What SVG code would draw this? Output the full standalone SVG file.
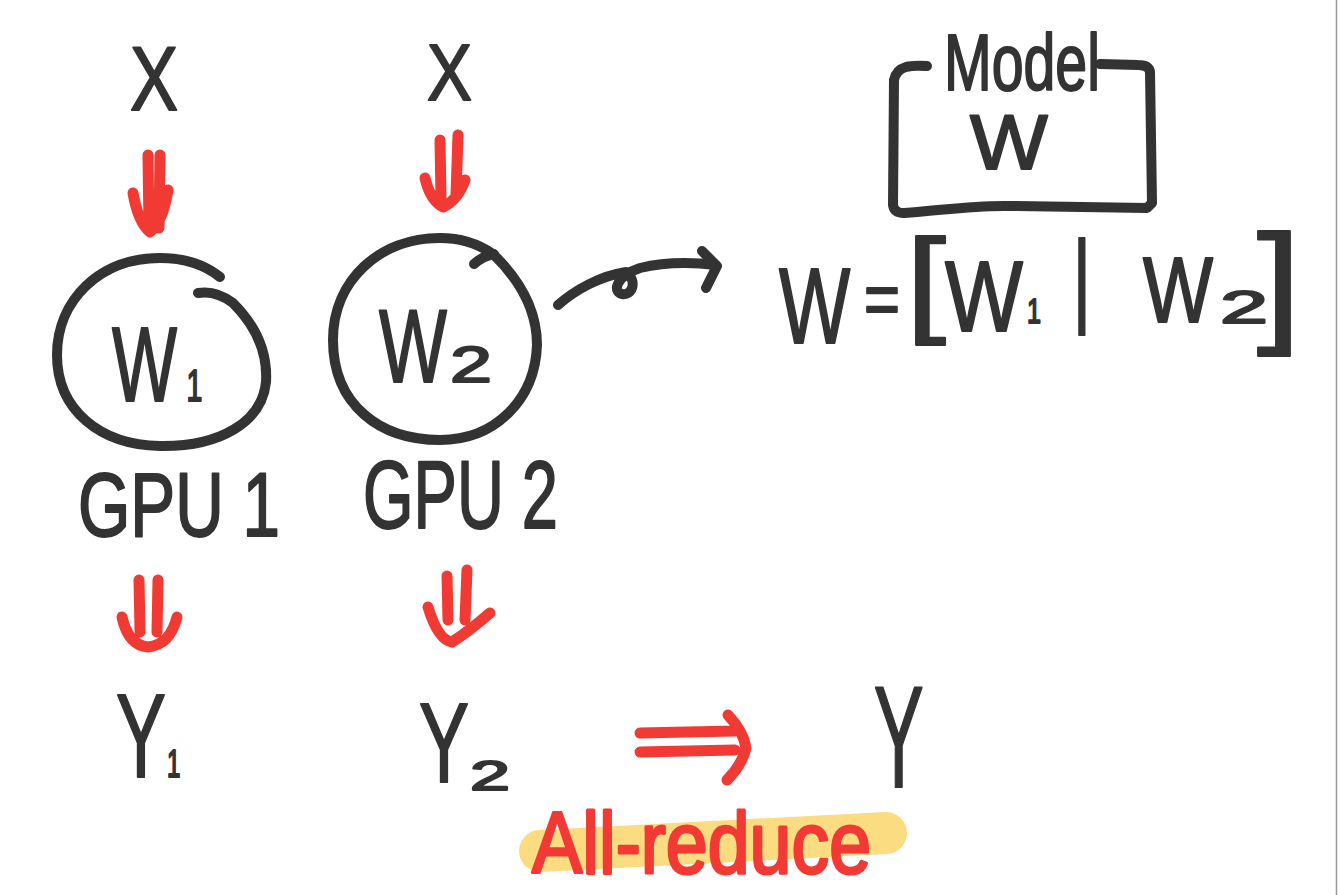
<svg xmlns="http://www.w3.org/2000/svg" width="1338" height="895" viewBox="0 0 1338 895">
  <style>
    .ink { fill: none; stroke: #333333; stroke-width: 10; stroke-linecap: round; stroke-linejoin: round; }
    .redline { fill: none; stroke: #F23A35; stroke-width: 11; stroke-linecap: round; stroke-linejoin: round; }
    .hw { font-family: "Liberation Sans", Arial, sans-serif; fill: #333333; stroke: #333333; stroke-width: 2; stroke-linejoin: round; }
    .hwred { font-family: "Liberation Sans", Arial, sans-serif; fill: #F23A35; stroke: #F23A35; stroke-width: 3; stroke-linejoin: round; }
  </style>
  <rect x="0" y="0" width="1338" height="895" fill="#FFFFFF"/>
  <line x1="1336.5" y1="0" x2="1336.5" y2="895" stroke="#9A9A9A" stroke-width="1.5"/>

  <g id="x1">
    <text class="hw" transform="scale(0.8,1)" x="162.5" y="110" font-size="90">X</text>
  </g>
  <g id="x2">
    <text class="hw" transform="scale(0.843,1)" x="506.5" y="100" font-size="80">X</text>
  </g>

  <g id="gpu1">
    <path class="ink" d="M198,293 Q216,290 233,303 C252,322 268,348 266,382 C262,422 220,447 160,446 C100,445 57,410 57,355 C57,300 100,258 160,258 C186,258 205,265 220,277"/>
    <text class="hw" transform="scale(0.65,1)" x="172.3" y="401" font-size="106">W<tspan x="287" y="401" font-size="44">1</tspan></text>
    <text class="hw" transform="scale(0.748,1)" x="104.3" y="536" font-size="90">GPU 1</text>
  </g>

  <g id="gpu2">
    <path class="ink" d="M493,254 C520,280 537,310 537,345 C535,400 495,440 440,440 C380,440 333,405 333,340 C333,280 380,238 440,238 C462,238 480,245 493,254"/>
    <path class="ink" d="M474,264 Q483,256 494,254"/>
    <text class="hw" transform="scale(0.6925,1)" x="547.3" y="382" font-size="104">W<tspan x="649.8" y="382" font-size="50" textLength="60.6" lengthAdjust="spacingAndGlyphs">2</tspan></text>
    <text class="hw" transform="scale(0.67,1)" x="541.8" y="528" font-size="97">GPU 2</text>
  </g>

  <g id="y1">
    <text class="hw" transform="scale(0.635,1)" x="182.7" y="777" font-size="118">Y<tspan x="263" y="777" font-size="38">1</tspan></text>
  </g>
  <g id="y2">
    <text class="hw" transform="scale(0.658,1)" x="636.8" y="782" font-size="114">Y<tspan x="714.3" y="790" font-size="42" textLength="60.8" lengthAdjust="spacingAndGlyphs">2</tspan></text>
  </g>
  <g id="y">
    <text class="hw" transform="scale(0.517,1)" x="1690" y="787" font-size="145">Y</text>
  </g>

  <g id="model">
    <path class="ink" d="M927,66 C912,65 897,65 894,80 L893,205 Q894,213 904,213 C945,210 975,205 1010,206 L1147,208 L1152,203 L1150,72 Q1149,65 1138,65 L1100,64"/>
    <text class="hw" transform="scale(0.716,1)" x="1318.4" y="90" font-size="80">Model</text>
    <text class="hw" transform="scale(1.07,1)" x="906.5" y="169" font-size="77">W</text>
  </g>

  <g id="equation">
    <text class="hw" transform="scale(0.7,1)" x="1112.9" y="343" font-size="108">W<tspan x="1234.3" y="324" font-size="74" textLength="51.4" lengthAdjust="spacingAndGlyphs">=</tspan><tspan x="1294.3" y="321" font-size="117" textLength="57.1" lengthAdjust="spacingAndGlyphs">[</tspan><tspan x="1350" y="331" font-size="100" textLength="111.4" lengthAdjust="spacingAndGlyphs">W</tspan><tspan x="1467" y="323" font-size="36">1</tspan><tspan x="1532.3" y="313" font-size="103">|</tspan><tspan x="1632.9" y="322" font-size="92" textLength="100" lengthAdjust="spacingAndGlyphs">W</tspan><tspan x="1742.9" y="323" font-size="46" textLength="68.6" lengthAdjust="spacingAndGlyphs">2</tspan><tspan x="1795.7" y="328" font-size="134" textLength="62.9" lengthAdjust="spacingAndGlyphs">]</tspan></text>
  </g>

  <g id="allreduce">
    <path d="M540,851 L886,833" fill="none" stroke="#FCDC80" stroke-width="42" stroke-linecap="round"/>
    <text class="hwred" transform="scale(0.856,1)" x="621.5" y="873" font-size="88">All-reduce</text>
  </g>

  <g id="connectors">
    <path class="redline" d="M148,155 L149,228 M160,155 L159,228 M133,193 Q138,222 150,232 Q163,222 168,190"/>
    <path class="redline" d="M440,140 L441,198 M458,135 L456,195 M425,178 Q430,200 443,207 Q458,200 465,180"/>
    <path class="redline" d="M139,580 L140,632 M158,580 L157,632 M122,617 Q128,645 148,647 Q170,645 177,617"/>
    <path class="redline" d="M447,576 L448,620 M467,570 L465,620 M428,607 Q438,640 452,642 Q468,632 490,613"/>
    <path class="redline" d="M640,733 L735,731 M640,752 L735,750 M728,715 Q744,732 746,748 Q742,765 727,780"/>
    <path class="ink" d="M558,305 C575,290 600,276 626,272 C638,281 632,296 622,294 C612,292 616,276 640,268 C665,262 690,262 716,265 M702,251 L717,266 L706,288"/>
  </g>
</svg>
